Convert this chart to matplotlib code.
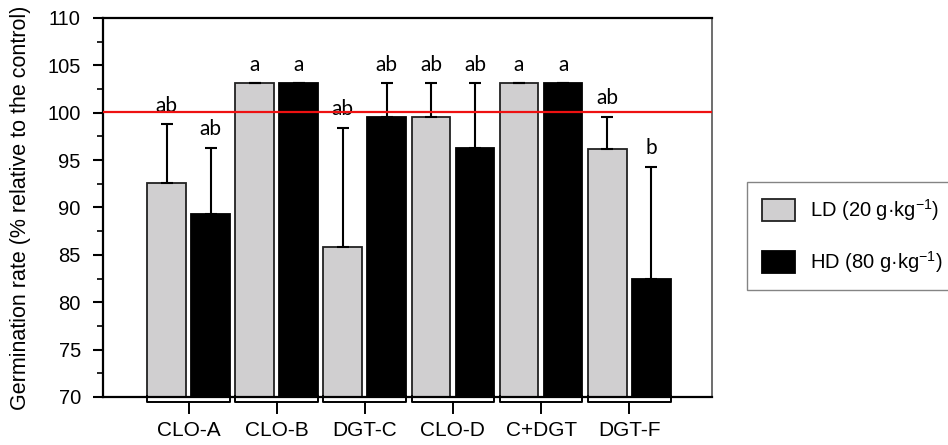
import matplotlib
matplotlib.use("Agg")
from matplotlib import pyplot as plt
import numpy as np

# treatments and germination rates (% of control)
groups = ["CLO-A", "CLO-B", "DGT-C", "CLO-D", "C+DGT", "DGT-F"]
ld_mean = [92.6, 103.1, 85.8, 99.6, 103.1, 96.2]
ld_err = [6.2, 0.0, 12.6, 3.5, 0.0, 3.4]
hd_mean = [89.3, 103.1, 99.6, 96.3, 103.1, 82.4]
hd_err = [7.0, 0.0, 3.5, 6.8, 0.0, 11.9]
ld_letters = ["ab", "a", "ab", "ab", "a", "ab"]
hd_letters = ["ab", "a", "ab", "ab", "a", "b"]
control_level = 100.1

plt.rcParams['font.family'] = ['Liberation Sans', 'DejaVu Sans']
plt.rcParams['mathtext.fontset'] = 'custom'
plt.rcParams['mathtext.rm'] = 'Liberation Sans'
plt.rcParams['mathtext.it'] = 'Liberation Sans'

fig = plt.figure(figsize=(9.48, 4.45), dpi=100)
ax = fig.add_axes([0.1087, 0.1079, 0.6424, 0.8517])

x = np.arange(len(groups))
off = 0.25
w = 0.44
gray = "#d0cfd0"

ax.bar(x - off, ld_mean, w, color=gray, edgecolor="#222222",
       linewidth=1.3, zorder=2, label="LD (20 g·kg$^{-1}$)")
ax.bar(x + off, hd_mean, w, color="black", edgecolor="black",
       linewidth=1.3, zorder=2, label="HD (80 g·kg$^{-1}$)")

# upper error bars only
ax.errorbar(x - off, ld_mean, yerr=[np.zeros(len(x)), ld_err], fmt="none",
            ecolor="black", elinewidth=1.5, capsize=4, capthick=1.5, zorder=3)
ax.errorbar(x + off, hd_mean, yerr=[np.zeros(len(x)), hd_err], fmt="none",
            ecolor="black", elinewidth=1.5, capsize=4, capthick=1.5, zorder=3)

# significance letters
for xi, m, e, t in zip(x - off, ld_mean, ld_err, ld_letters):
    ax.text(xi, m + e + 0.9, t, ha="center", va="bottom", fontsize=15,
            family="Lato", zorder=4)
for xi, m, e, t in zip(x + off, hd_mean, hd_err, hd_letters):
    ax.text(xi, m + e + 0.9, t, ha="center", va="bottom", fontsize=15,
            family="Lato", zorder=4)

ax.axhline(control_level, color="#ee1111", linewidth=1.6, zorder=5)

ax.set_ylim(70, 110)
ax.set_xlim(-0.97, 5.94)
ax.set_yticks(np.arange(70, 111, 5))
ax.set_yticks(np.arange(72.5, 110, 5), minor=True)
ax.tick_params(axis="y", which="major", direction="out", length=7, width=1.5,
               labelsize=14.5, pad=9)
ax.tick_params(axis="y", which="minor", direction="out", length=4, width=1.2)

# group brackets under the axis
for xi in x:
    ax.plot([xi - 0.47, xi - 0.47, xi + 0.47, xi + 0.47],
            [70.1, 69.5, 69.5, 70.1], color="black", lw=1.4,
            clip_on=False, zorder=3)
    ax.plot([xi, xi], [69.5, 68.3], color="black", lw=1.4, clip_on=False)
ax.set_xticks(x)
ax.set_xticklabels(groups, fontsize=15)
ax.tick_params(axis="x", length=0, pad=17)

for s in ["left", "top", "bottom"]:
    ax.spines[s].set_linewidth(1.6)
ax.spines["right"].set_color("#555555")
ax.spines["right"].set_linewidth(1.2)

ax.set_ylabel("Germination rate (% relative to the control)", fontsize=15.5,
              labelpad=12)

fig.legend(loc="upper left", bbox_to_anchor=(0.788, 0.591), fontsize=14.5,
           frameon=True, fancybox=False, edgecolor="#666666",
           handlelength=1.65, handleheight=1.25, handletextpad=0.75,
           labelspacing=1.3, borderpad=0.75, borderaxespad=0)

plt.savefig("out.png", dpi=100)
